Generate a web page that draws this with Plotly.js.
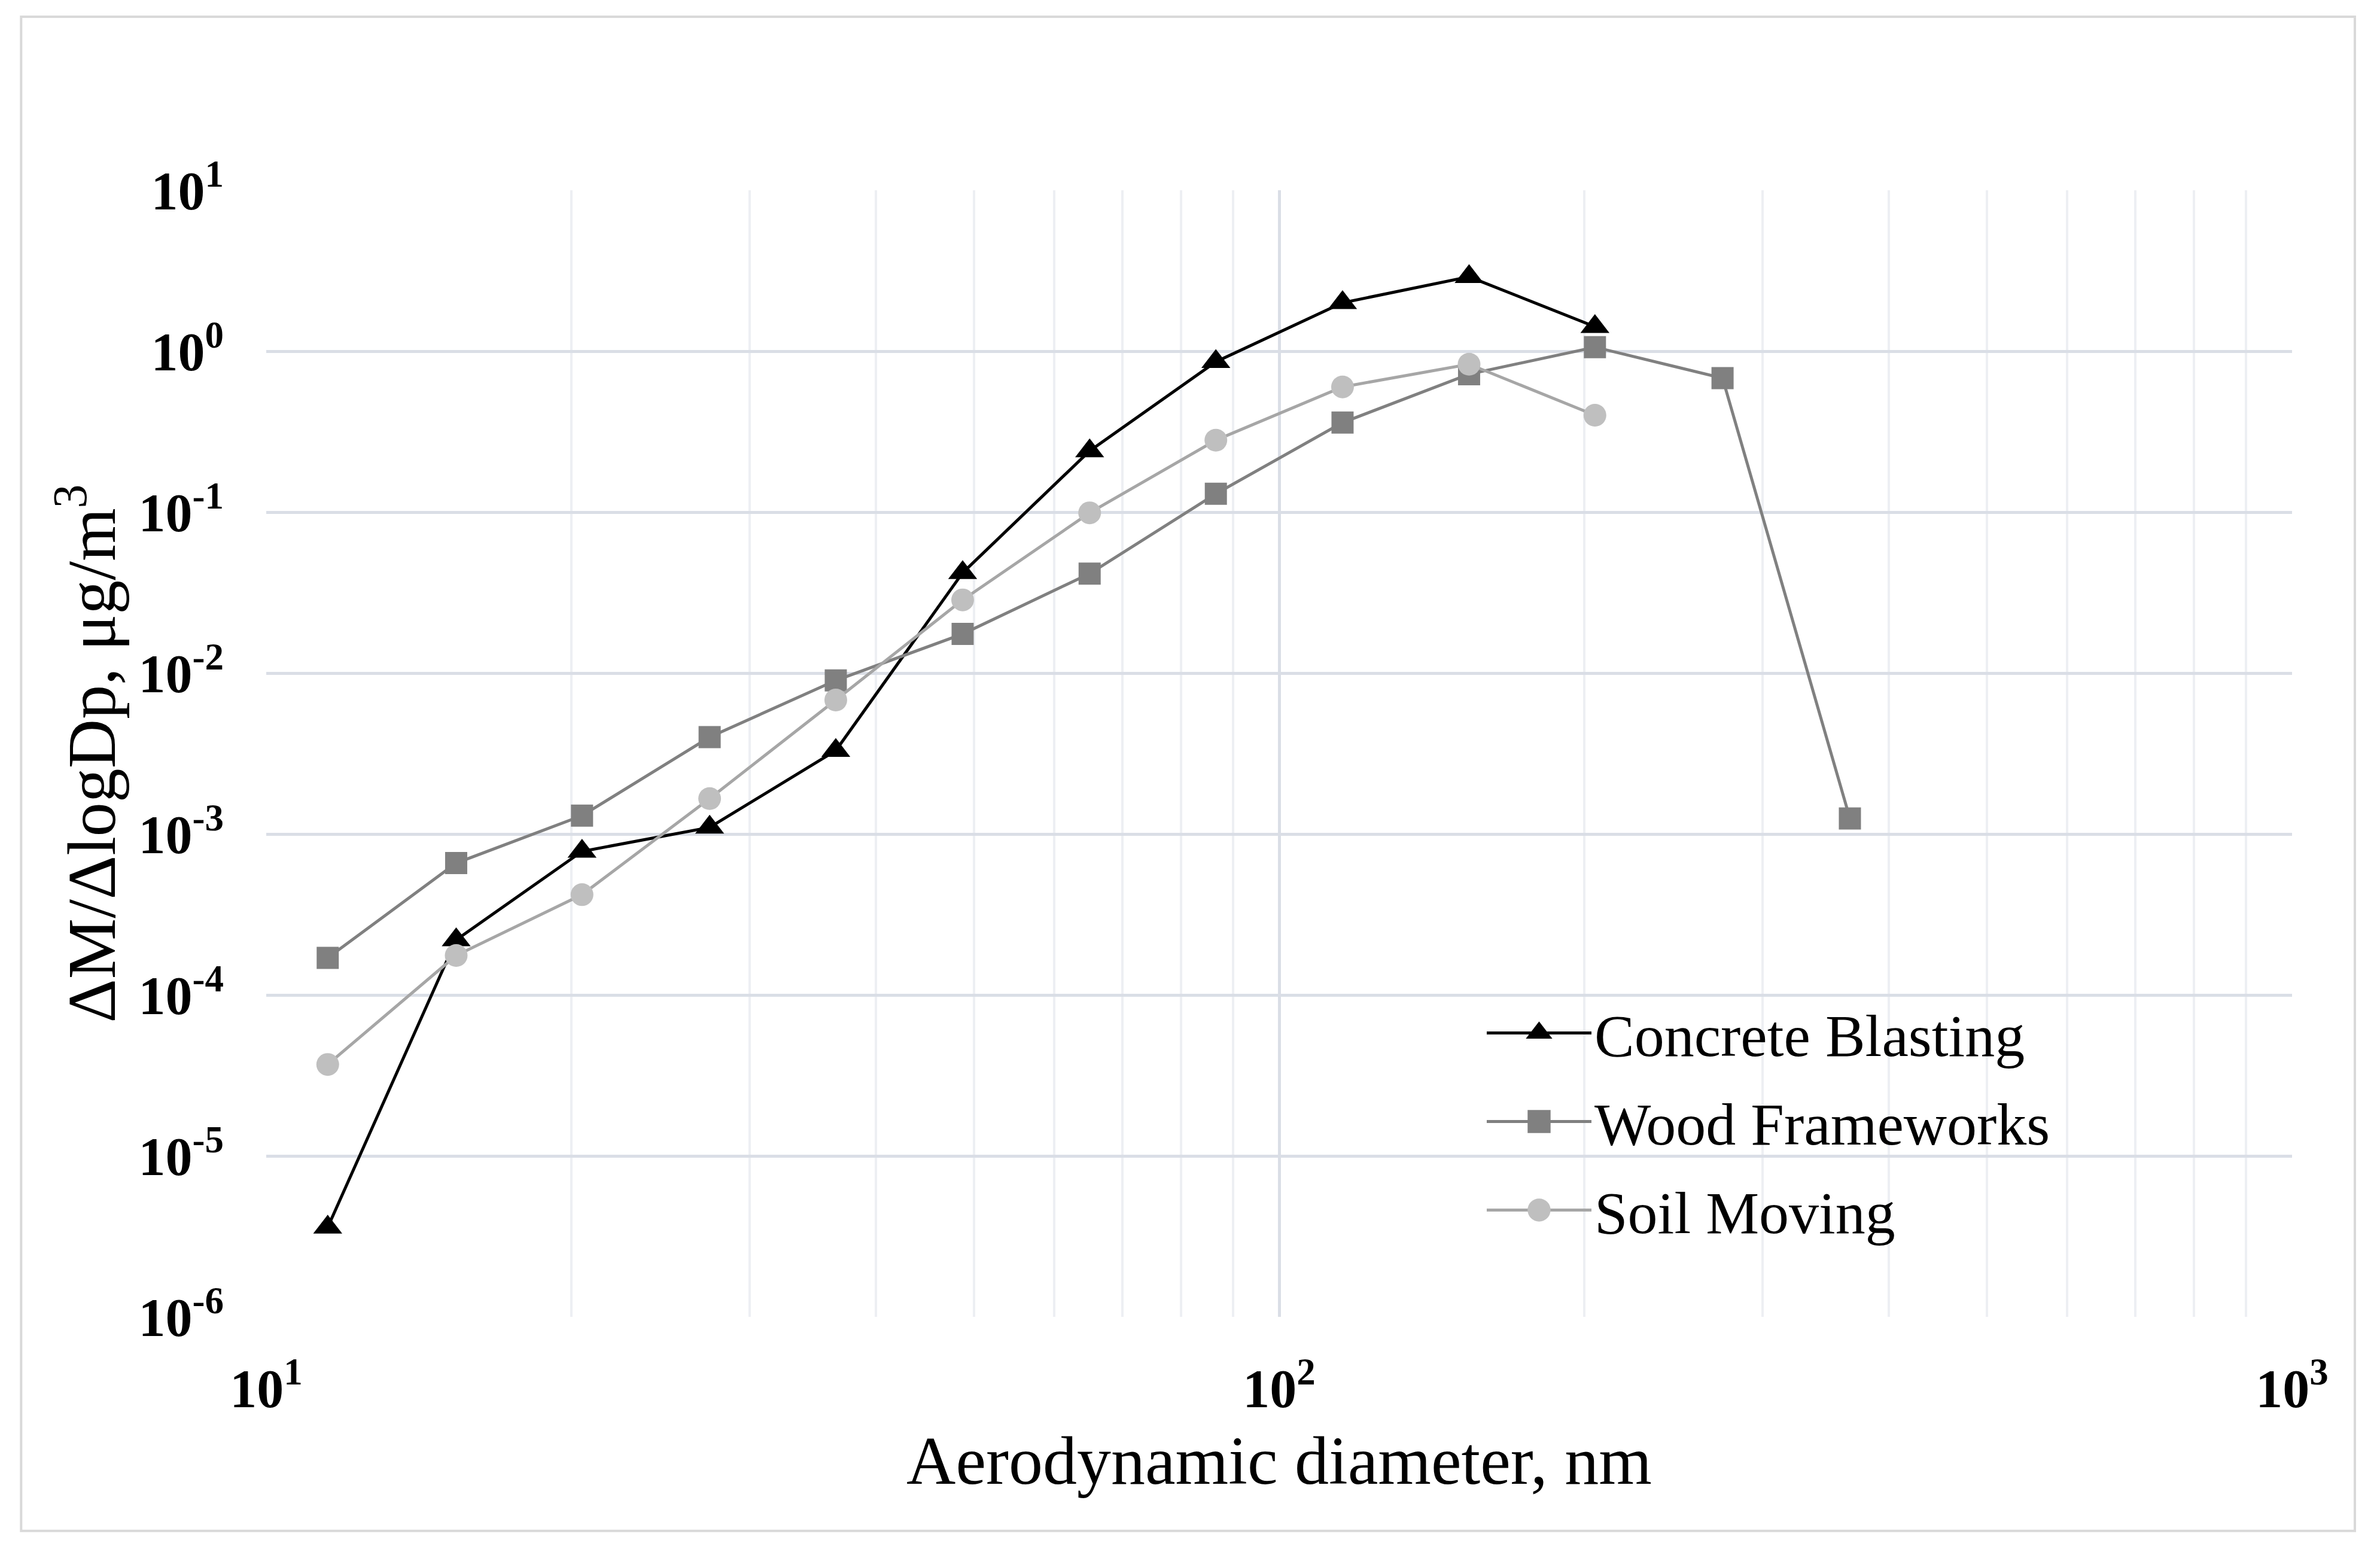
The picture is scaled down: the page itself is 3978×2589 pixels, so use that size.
<!DOCTYPE html>
<html>
<head>
<meta charset="utf-8">
<script src="https://cdn.plot.ly/plotly-3.0.1.min.js"></script>
<style>
  body { margin: 0; background: #fff; }
  #myDiv { width: 3978px; height: 2589px; }
</style>
</head>
<body>
<div id="myDiv"></div>
<script>
// aerodynamic diameter (nm), stage midpoints
var diameter = [11.5, 15.4, 20.5, 27.4, 36.5, 48.7, 65, 86.6, 115.5, 154, 205, 274, 366];

var concreteBlasting = [3.6e-6, 2.2e-4, 7.8e-4, 1.1e-3, 3.3e-3, 0.042, 0.24, 0.86, 2.0, 2.9, 1.42];
var woodFrameworks = [1.7e-4, 6.6e-4, 1.3e-3, 4.0e-3, 9.0e-3, 0.0175, 0.0415, 0.13, 0.36, 0.72, 1.06, 0.68, 1.25e-3];
var soilMoving = [3.7e-5, 1.76e-4, 4.2e-4, 1.66e-3, 6.8e-3, 0.0285, 0.099, 0.28, 0.6, 0.83, 0.40];

var xTickVals = [10, 100, 1000];
var xTickText = ['10<sup>1</sup>', '10<sup>2</sup>', '10<sup>3</sup>'];
var yTickVals = [1e-6, 1e-5, 1e-4, 1e-3, 1e-2, 1e-1, 1, 10];
var yTickText = ['10<sup>-6</sup>', '10<sup>-5</sup>', '10<sup>-4</sup>', '10<sup>-3</sup>',
                 '10<sup>-2</sup>', '10<sup>-1</sup>', '10<sup>0</sup>', '10<sup>1</sup>'];

var minorX = [];
for (var d = 10; d < 1000; d *= 10) {
  for (var k = 2; k <= 9; k++) minorX.push(k * d);
}

var trace1 = {
  x: diameter.slice(0, concreteBlasting.length),
  y: concreteBlasting,
  name: 'Concrete Blasting',
  legendgroup: 'a',
  type: 'scatter',
  mode: 'lines+markers',
  line: { color: '#000000', width: 5 },
  marker: { symbol: 'triangle-up', size: 42, color: '#000000' }
};

var trace2 = {
  x: diameter,
  y: woodFrameworks,
  name: 'Wood Frameworks',
  legendgroup: 'b',
  type: 'scatter',
  mode: 'lines+markers',
  line: { color: '#808080', width: 5 },
  marker: { symbol: 'square', size: 37, color: '#808080' }
};

var trace3 = {
  x: diameter.slice(0, soilMoving.length),
  y: soilMoving,
  name: 'Soil Moving',
  legendgroup: 'c',
  type: 'scatter',
  mode: 'lines+markers',
  line: { color: '#a6a6a6', width: 5 },
  marker: { symbol: 'circle', size: 38, color: '#bfbfbf' }
};

var data = [trace1, trace2, trace3];

var layout = {
  width: 3978,
  height: 2589,
  margin: { l: 445, r: 147, t: 318, b: 388 },
  paper_bgcolor: '#ffffff',
  plot_bgcolor: '#ffffff',
  font: { family: '"Liberation Serif", "Times New Roman", serif', color: '#000000' },
  showlegend: true,
  legend: {
    x: 0.601, y: 0.29,
    xanchor: 'left', yanchor: 'top',
    bgcolor: 'rgba(0,0,0,0)',
    font: { size: 100, color: '#000000' },
    itemwidth: 175,
    traceorder: 'grouped',
    tracegroupgap: 15
  },
  xaxis: {
    type: 'log',
    range: [1, 3],
    tickmode: 'array',
    tickvals: xTickVals,
    ticktext: xTickText,
    tickfont: { size: 90, family: '"Liberation Serif", serif', weight: 'bold' },
    ticks: '',
    ticklabelstandoff: 60,
    showline: false,
    zeroline: false,
    showgrid: true,
    gridcolor: '#dadee6',
    gridwidth: 5,
    minor: { tickvals: minorX, showgrid: true, gridcolor: '#edeff3', gridwidth: 4, ticks: '' },
    title: { text: 'Aerodynamic diameter, nm', font: { size: 114 }, standoff: 30 }
  },
  yaxis: {
    type: 'log',
    range: [-6, 1],
    tickmode: 'array',
    tickvals: yTickVals,
    ticktext: yTickText,
    tickfont: { size: 90, family: '"Liberation Serif", serif', weight: 'bold' },
    ticks: '',
    ticklabelstandoff: 70,
    showline: false,
    zeroline: false,
    showgrid: true,
    gridcolor: '#dadee6',
    gridwidth: 5,
    title: { text: 'ΔM/ΔlogDp, μg/m<sup>3</sup>', font: { size: 114 }, standoff: 0 }
  },
  shapes: [{
    type: 'rect', xref: 'paper', yref: 'paper',
    x0: -0.121, x1: 1.031, y0: -0.19, y1: 1.154,
    line: { color: '#d9d9d9', width: 4 },
    fillcolor: 'rgba(0,0,0,0)',
    layer: 'below'
  }]
};

Plotly.newPlot('myDiv', data, layout, { staticPlot: true }).then(function (gd) {
  // the legend caps symbol size; enlarge them to match the plotted markers
  var pts = gd.querySelectorAll('.legend .legendpoints path.scatterpts');
  pts.forEach(function (p) {
    var t = p.getAttribute('transform') || '';
    p.setAttribute('transform', t + ' scale(2.4)');
  });
});
</script>
</body>
</html>
